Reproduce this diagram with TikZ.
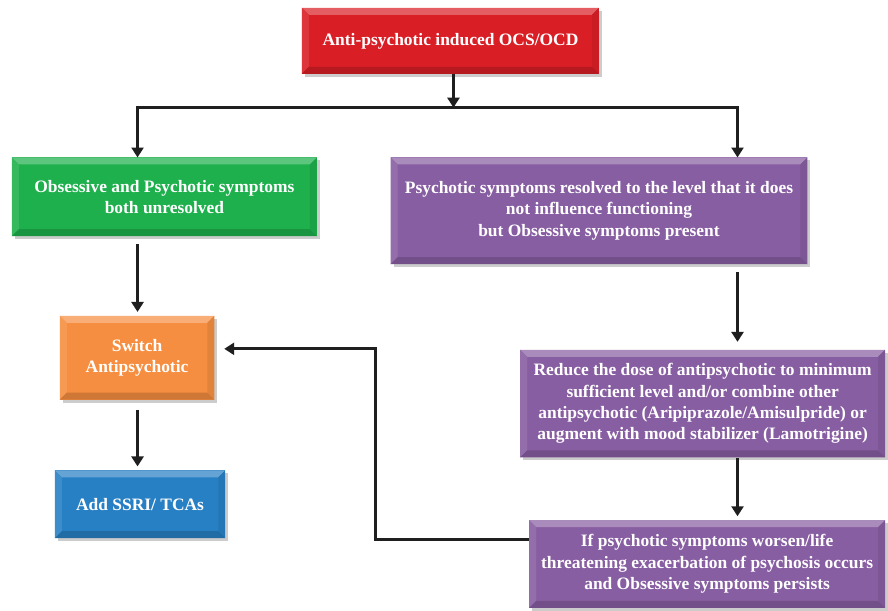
\documentclass[tikz,border=0pt]{standalone}
\usepackage{fontspec}
\setmainfont{Liberation Serif}
\usetikzlibrary{arrows.meta,backgrounds,calc}
\definecolor{cred}{RGB}{218,30,38}
\definecolor{cgreen}{RGB}{30,176,76}
\definecolor{cpurple}{RGB}{136,94,162}
\definecolor{corange}{RGB}{245,142,64}
\definecolor{cblue}{RGB}{40,128,196}
\newcommand\bev[2]{%
\begin{pgfonlayer}{background}
\fill[black!20] ([shift={(3,3)}]#1.north west) rectangle ([shift={(3,3)}]#1.south east);
\fill[#2] (#1.north west) rectangle (#1.south east);
\fill[#2!72!white] (#1.north west) -- (#1.north east) -- ([shift={(-7,7)}]#1.north east) -- ([shift={(7,7)}]#1.north west) -- cycle;
\fill[#2!90!white] (#1.north west) -- (#1.south west) -- ([shift={(7,-7)}]#1.south west) -- ([shift={(7,7)}]#1.north west) -- cycle;
\fill[#2!92!black] (#1.north east) -- (#1.south east) -- ([shift={(-7,-7)}]#1.south east) -- ([shift={(-7,7)}]#1.north east) -- cycle;
\fill[#2!84!black] (#1.south west) -- (#1.south east) -- ([shift={(-7,-7)}]#1.south east) -- ([shift={(7,-7)}]#1.south west) -- cycle;
\end{pgfonlayer}}
\tikzset{
  box/.style={inner sep=0pt, outer sep=0pt, align=center, text=white,
    font=\fontsize{17.5}{21.5}\selectfont\bfseries},
  conn/.style={line width=3pt, black!88},
  arr/.style={conn, -{Triangle[width=12pt,length=10pt]}},
}
\begin{document}
\begin{tikzpicture}[x=1pt,y=-1pt]
\begin{pgfonlayer}{background}
\path[use as bounding box, fill=white] (0,0) rectangle (888,610);
\end{pgfonlayer}
\node[box, minimum width=298pt, minimum height=66pt] (red) at (452,41) {Anti-psychotic induced OCS/OCD};
\node[box, minimum width=306pt, minimum height=79pt] (green) at (165,197.5) {Obsessive and Psychotic symptoms\\both unresolved};
\node[box, minimum width=418pt, minimum height=107pt] (p1) at (601,211.5) {Psychotic symptoms resolved to the level that it does\\not influence functioning\\but Obsessive symptoms present};
\node[box, minimum width=155pt, minimum height=84pt] (orange) at (137.5,359) {Switch\\Antipsychotic};
\node[box, minimum width=171pt, minimum height=68pt] (blue) at (140.5,506) {Add SSRI/ TCAs};
\node[box, minimum width=366pt, minimum height=108pt] (p2) at (705,405) {Reduce the dose of antipsychotic to minimum\\sufficient level and/or combine other\\antipsychotic (Aripiprazole/Amisulpride) or\\augment with mood stabilizer (Lamotrigine)};
\node[box, minimum width=357pt, minimum height=88pt] (p3) at (709.5,566) {If psychotic symptoms worsen/life\\threatening exacerbation of psychosis occurs\\and Obsessive symptoms persists};
\bev{red}{cred}
\bev{green}{cgreen}
\bev{p1}{cpurple}
\bev{orange}{corange}
\bev{blue}{cblue}
\bev{p2}{cpurple}
\bev{p3}{cpurple}
\coordinate (j) at (455,108);
\coordinate (jl) at (138,108);
\coordinate (jr) at (740,108);
\coordinate (fb1) at (377,541);
\coordinate (fb2) at (377,350);
\draw[arr] (j |- red.south) -- (j);
\draw[conn] ([xshift=-1.5pt]jl) -- ([xshift=1.5pt]jr);
\draw[arr] (jl) -- (green.north -| jl);
\draw[arr] (jr) -- (p1.north -| jr);
\draw[arr, shorten <=8pt, shorten >=4pt] (green.south -| jl) -- (orange.north -| jl);
\draw[arr, shorten <=10pt, shorten >=4pt] (orange.south -| jl) -- (blue.north -| jl);
\draw[arr, shorten <=8pt, shorten >=8pt] (p1.south -| jr) -- (p2.north -| jr);
\draw[arr, shorten <=1pt, shorten >=4pt] (p2.south -| jr) -- (p3.north -| jr);
\draw[arr, shorten >=10pt] (p3.west |- fb1) -- (fb1) -- (fb2) -- (orange.east |- fb2);
\end{tikzpicture}
\end{document}
